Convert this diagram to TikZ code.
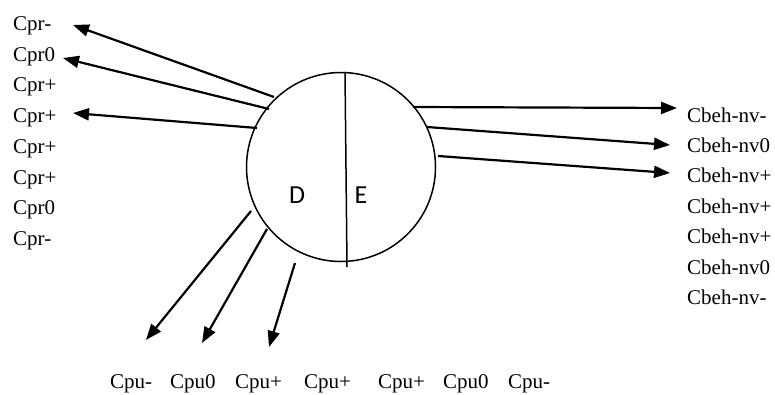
\documentclass[tikz,border=0pt]{standalone}
\usepackage{fontspec}
\setmainfont{Liberation Serif}
\newfontfamily\halffont{Carlito}
\usetikzlibrary{arrows.meta}
\tikzset{
  lbl/.style={anchor=base west, inner sep=0pt, font=\fontsize{21}{25}\selectfont},
  half/.style={inner sep=0pt, font=\halffont\fontsize{26}{30}\selectfont},
  link/.style={line width=2.2pt, -{Triangle[length=16pt,width=12pt]}},
  unit/.style={draw, circle, line width=1.5pt, minimum size=189pt, inner sep=0pt}
}
\begin{document}
\begin{tikzpicture}[x=1pt,y=-1pt]
\useasboundingbox (0,0) rectangle (775,394);

% central unit split into D and E
\node[unit] (u) at (341,167) {};
\coordinate (divtop) at (345,72);
\coordinate (divbot) at (347,267);
\draw[line width=1.5pt] (divtop) -- (divbot);
\node[half] (d) at (297,195) {D};
\node[half] (e) at (361,195) {E};

% left column
\foreach \t [count=\i] in {Cpr-,Cpr0,Cpr+,Cpr+,Cpr+,Cpr+,Cpr0,Cpr-}
  \node[lbl] (l\i) at (13,{30.5+30.7*(\i-1)}) {\t};

% right column
\foreach \t [count=\i] in {Cbeh-nv-,Cbeh-nv0,Cbeh-nv+,Cbeh-nv+,Cbeh-nv+,Cbeh-nv0,Cbeh-nv-}
  \node[lbl] (r\i) at (687,{122+30.4*(\i-1)}) {\t};

% bottom row
\foreach \t/\x [count=\i] in {Cpu-/110,Cpu0/170,Cpu+/235,Cpu+/304,Cpu+/378,Cpu0/443,Cpu-/508}
  \node[lbl] (b\i) at (\x,388) {\t};

% arrow ends
\coordinate (ls1) at (274,97);  \coordinate (lt1) at (73,25);
\coordinate (ls2) at (269,109); \coordinate (lt2) at (63,58);
\coordinate (ls3) at (257,128); \coordinate (lt3) at (73,113);
\coordinate (rs1) at (413,107); \coordinate (rt1) at (677,108);
\coordinate (rs2) at (427,127); \coordinate (rt2) at (670,145);
\coordinate (rs3) at (438,156); \coordinate (rt3) at (670,173);
\coordinate (bs1) at (251,211); \coordinate (bt1) at (146,340);
\coordinate (bs2) at (267,229); \coordinate (bt2) at (202,343);
\coordinate (bs3) at (295,263); \coordinate (bt3) at (269,347);

\draw[link] (ls1) -- (lt1);
\draw[link] (ls2) -- (lt2);
\draw[link] (ls3) -- (lt3);
\draw[link] (rs1) -- (rt1);
\draw[link] (rs2) -- (rt2);
\draw[link] (rs3) -- (rt3);
\draw[link] (bs1) -- (bt1);
\draw[link] (bs2) -- (bt2);
\draw[link] (bs3) -- (bt3);
\end{tikzpicture}
\end{document}
